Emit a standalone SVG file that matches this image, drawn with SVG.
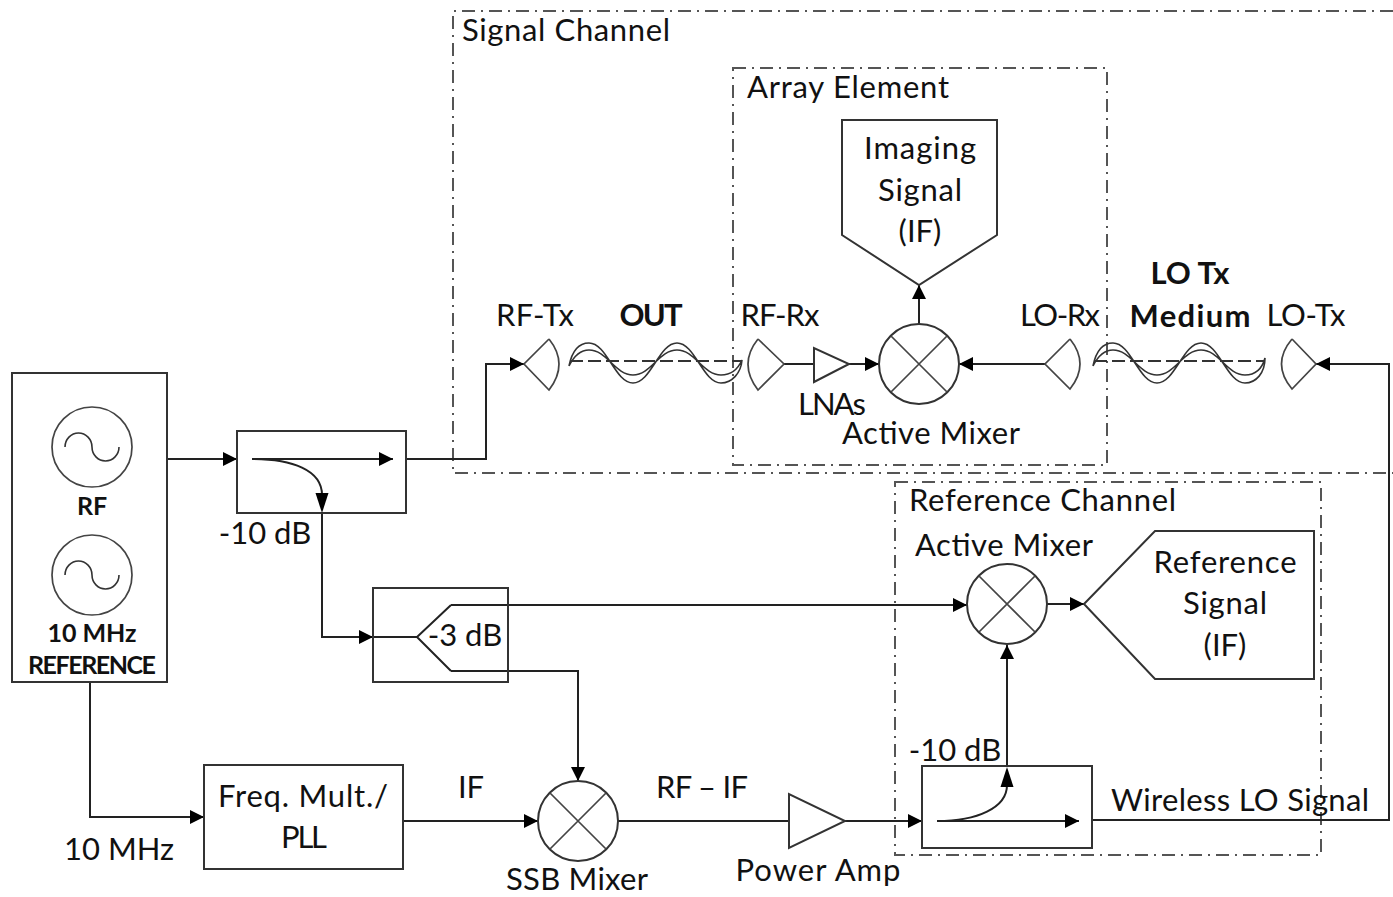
<svg xmlns="http://www.w3.org/2000/svg" width="1393" height="897" viewBox="0 0 1393 897">
<style>
text{font-family:"Lato","Open Sans","Liberation Sans",sans-serif;font-size:31px;fill:#111;text-anchor:middle}
.b{font-weight:700}
.s{font-size:25px;font-weight:700}
.l{text-anchor:start}
.n{fill:#fff;stroke:#333;stroke-width:2}
.o{fill:none;stroke:#333;stroke-width:2}
.t{fill:none;stroke:#444;stroke-width:1.7}
.w{fill:none;stroke:#333;stroke-width:1.6}
.g{fill:none;stroke:#222;stroke-width:2}
.h{fill:none;stroke:#555;stroke-width:2;stroke-dasharray:13 6 2 6}
.d{fill:none;stroke:#333;stroke-width:2;stroke-dasharray:13 5}
</style>
<defs>
<marker id="a" markerUnits="userSpaceOnUse" markerWidth="15" markerHeight="15" refX="14" refY="7" orient="auto"><path d="M0 0L14 7L0 14Z" fill="#000"/></marker>
<symbol id="x" overflow="visible"><circle r="40" class="n"/><path class="t" d="M-28-28L28 28M-28 28L28-28"/></symbol>
</defs>
<g id="boundaries">
<path class="h" d="M1393 11H453V473H1393"/>
<rect class="h" x="733" y="68" width="374" height="397"/>
<rect class="h" x="895" y="482" width="426" height="373"/>
</g>
<g id="connectors">
<path class="g" marker-end="url(#a)" d="M167 459H237"/>
<path class="g" d="M406 459H486V364H524" marker-end="url(#a)"/>
<path class="g" marker-end="url(#a)" d="M322 513V637H373"/>
<path class="g" d="M373 637H417"/>
<path class="g" marker-end="url(#a)" d="M451 605H967"/>
<path class="g" marker-end="url(#a)" d="M451 671H578V781"/>
<path class="g" marker-end="url(#a)" d="M90 682V817H204"/>
<path class="g" marker-end="url(#a)" d="M403 821H538"/>
<path class="g" d="M618 821H789"/>
<path class="g" marker-end="url(#a)" d="M845 821H922"/>
<path class="g" marker-end="url(#a)" d="M1007 766V645"/>
<path class="g" marker-end="url(#a)" d="M1047 604H1084"/>
<path class="g" marker-end="url(#a)" d="M1092 820H1389V364H1316"/>
<path class="g" d="M784 364H814"/>
<path class="g" marker-end="url(#a)" d="M849 364H879"/>
<path class="g" marker-end="url(#a)" d="M1045 364H959"/>
<path class="g" marker-end="url(#a)" d="M919 324V285"/>
</g>
<g id="source"><rect class="n" x="12" y="373" width="155" height="309"/>
<circle class="t" cx="92" cy="447" r="40"/><path class="w" d="M65 447A13.5 14 0 0 1 92 447A13.5 14 0 0 0 119 447"/>
<circle class="t" cx="92" cy="575" r="40"/><path class="w" d="M65 575A13.5 14 0 0 1 92 575A13.5 14 0 0 0 119 575"/>
<text class="s" x="92" y="515">RF</text><text class="s" x="92" y="642">10 MHz</text><text class="s" x="92" y="674" textLength="128">REFERENCE</text></g>
<g id="coupler1"><rect class="o" x="237" y="431" width="169" height="82"/>
<path class="g" marker-end="url(#a)" d="M252 459H393"/><path class="g" d="M252 459C292 459 322 470 322 495"/><path d="M315.500 493H328.500L322 513Z" fill="#000"/></g>
<g id="splitter"><rect class="o" x="373" y="588" width="135" height="94"/><path class="g" d="M451 605L417 637L451 671"/></g>
<g id="freq"><rect class="n" x="204" y="765" width="199" height="104"/></g>
<use id="ssb" href="#x" x="578" y="821"/>
<g id="amp"><path class="n" d="M789 794V848L845 821Z"/></g>
<g id="coupler2"><rect class="o" x="922" y="766" width="170" height="82"/>
<path class="g" marker-end="url(#a)" d="M937 821H1079"/><path class="g" d="M937 821C977 821 1007 808 1007 785"/><path d="M1000.500 787H1013.500L1007 767Z" fill="#000"/></g>
<use id="refmixer" href="#x" x="1007" y="604"/>
<g id="refsignal"><path class="n" d="M1084 604L1155 531H1314V679H1155Z"/></g>
<g id="imaging"><path class="n" d="M842 120H997V235L919 285L842 235Z"/></g>
<use id="mixer" href="#x" x="919" y="364"/>
<g id="lna"><path class="n" d="M814 348V382L849 364Z"/></g>
<g id="antennas">
<path class="t" d="M549 339L524 364L549 390Q569 364 549 339"/>
<path class="t" d="M758 339L784 364L758 390Q738 364 758 339"/>
<path class="t" d="M1070 339L1045 364L1070 389Q1090 364 1070 339"/>
<path class="t" d="M1292 339L1316 364L1292 389Q1271 364 1292 339"/>
</g>
<g id="waves">
<path class="w" d="M569 366C572 351 579 343 589 343C607 343 615 383 633 383C651 383 659 343 677 343C695 343 703 383 721 383C732 383 741 373 742 360C738 369 731 375 721 375C703 375 695 350 677 350C659 350 651 375 633 375C615 375 607 350 589 350C581 350 574 356 569 366Z"/>
<path class="d" d="M570 361H742"/>
<path class="w" d="M1093 366C1096 351 1103 343 1113 343C1131 343 1139 383 1157 383C1175 383 1183 343 1201 343C1219 343 1227 383 1245 383C1256 383 1265 373 1265 358C1262 369 1255 375 1245 375C1227 375 1219 350 1201 350C1183 350 1175 375 1157 375C1139 375 1131 350 1113 350C1105 350 1098 356 1093 366Z"/>
<path class="d" d="M1094 361H1265"/>
</g>
<g id="labels">
<text class="l" x="462" y="41" textLength="208">Signal Channel</text>
<text class="l" x="747" y="98" textLength="202">Array Element</text>
<text x="920" y="159" textLength="112">Imaging</text><text x="920" y="201" textLength="84">Signal</text><text x="920" y="242">(IF)</text>
<text x="535" y="326" textLength="78">RF-Tx</text><text class="b" x="651" y="326" textLength="63">OUT</text><text x="780" y="326" textLength="79">RF-Rx</text>
<text x="1060" y="326" textLength="80">LO-Rx</text><text class="b" x="1190" y="284" textLength="79">LO Tx</text><text class="b" x="1190" y="327" textLength="121">Medium</text><text x="1306" y="326" textLength="79">LO-Tx</text>
<text x="832" y="415" textLength="68">LNAs</text><text x="931" y="444" textLength="178">Active Mixer</text>
<text x="265" y="544">-10 dB</text><text x="465" y="646">-3 dB</text>
<text class="l" x="909" y="511" textLength="267">Reference Channel</text>
<text x="1004" y="556" textLength="178">Active Mixer</text>
<text x="1225" y="573" textLength="143">Reference</text><text x="1225" y="614" textLength="84">Signal</text><text x="1225" y="656">(IF)</text>
<text x="955" y="761">-10 dB</text>
<text class="l" x="1111" y="811" textLength="258">Wireless LO Signal</text>
<text x="303" y="807" textLength="170">Freq. Mult./</text><text x="304" y="848" textLength="46">PLL</text>
<text x="471" y="798">IF</text><text x="702" y="798" textLength="92">RF – IF</text>
<text x="119" y="860">10 MHz</text><text x="577" y="890" textLength="142">SSB Mixer</text><text x="818" y="881" textLength="165">Power Amp</text>
</g>
</svg>
